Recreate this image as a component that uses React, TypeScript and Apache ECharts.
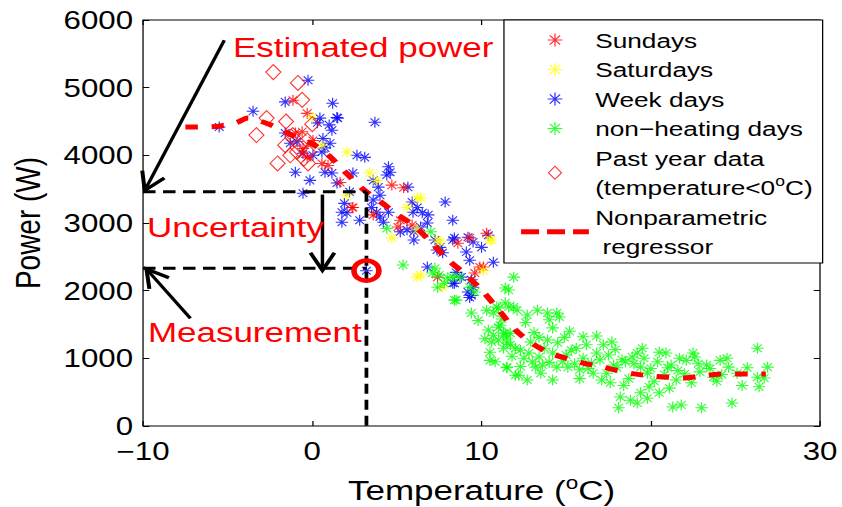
import React, { useEffect, useRef } from "react";
import * as echarts from "echarts";

const FONT = "'Liberation Sans', Arial, Helvetica, sans-serif";
const PAGE_W = 842;
const PAGE_H = 507;
const INNER_W = 674;
const STRETCH = PAGE_W / INNER_W;

type Pt = [number, number];

const xTicks = [-10, 0, 10, 20, 30];
const yTicks = [0, 1000, 2000, 3000, 4000, 5000, 6000];

const sundays: Pt[] = [
  [-1.14, 4815], [-0.3, 4620], [-1.0, 4330], [0.04, 4220], [-0.55, 4100], [-0.3, 3970],
  [0.93, 3850], [1.64, 3600], [2.4, 3230], [4.7, 3560], [5.4, 3520], [3.6, 3120],
  [5.2, 3040], [5.06, 2940], [5.9, 2970], [10.3, 2850], [9.3, 2780], [10.1, 2350],
  [9.6, 2260], [9.9, 2350], [7.4, 2200], [0.57, 3880], [2.35, 3230], [-0.6, 4350], [8.6, 2700],
];

const saturdays: Pt[] = [
  [0.0, 4560], [0.57, 4150], [2.05, 4050], [3.4, 3740], [3.8, 3630], [2.05, 3410],
  [6.2, 3370], [5.6, 3230], [4.7, 2780], [6.2, 2900], [6.2, 2200], [7.55, 2720],
  [10.6, 2750], [10.1, 2300], [7.7, 2050], [6.4, 3370], [7.4, 2750], [10.5, 2750], [6.4, 2230],
];

const weekDays: Pt[] = [
  [-0.25, 5110], [-3.5, 4650], [-1.6, 4790], [1.2, 4770], [0.45, 4550], [1.45, 4560],
  [1.5, 4550], [3.7, 4490], [-5.5, 4420], [1.16, 4370], [-1.6, 4330], [-1.3, 4180],
  [-0.9, 4200], [0.63, 4250], [1.05, 4180], [0.75, 4110], [0.57, 4050], [-0.55, 4030],
  [0.04, 4000], [2.64, 4000], [3.1, 3970], [0.75, 3750], [1.16, 3740], [1.46, 3590],
  [2.4, 3740], [4.5, 3830], [4.6, 3750], [4.4, 3710], [-0.14, 3630], [-0.55, 3440],
  [3.6, 3630], [3.9, 3530], [5.65, 3530], [2.2, 3460], [4.0, 3410], [3.6, 3340],
  [3.5, 3230], [3.8, 3160], [1.9, 3290], [1.75, 3160], [2.05, 3150], [2.8, 3040],
  [1.75, 3010], [4.5, 3160], [4.0, 3090], [4.2, 3010], [5.9, 3310], [6.2, 3230],
  [5.95, 3160], [6.5, 3150], [6.85, 3120], [7.85, 3310], [8.3, 3040], [6.8, 3000],
  [6.4, 2940], [6.0, 2870], [5.2, 2870], [5.6, 2900], [6.0, 2750], [7.25, 2750],
  [7.55, 2640], [7.37, 2600], [7.7, 2560], [8.3, 2750], [9.2, 2790], [9.5, 2720],
  [9.1, 2570], [9.3, 2450], [10.4, 2820], [10.0, 2640], [10.7, 2420], [8.5, 2270],
  [8.8, 2200], [8.3, 2110], [9.3, 1900], [6.8, 2350], [3.2, 2295], [9.2, 1980],
  [9.5, 2050], [8.4, 2780], [8.4, 2110], [9.4, 2160], [9.4, 1930], [0.3, 4480],
  [-1.0, 3750], [1.0, 4450],
];

const nonHeatingDays: Pt[] = [
  [4.4, 2920], [5.36, 2380], [7.0, 2870], [7.1, 2260], [7.5, 2230], [8.0, 2190],
  [8.3, 2200], [8.7, 2200], [7.4, 2050], [7.8, 2110], [8.4, 1860], [9.3, 2050],
  [9.6, 1980], [9.4, 1670], [10.3, 1710], [10.7, 1670], [10.9, 1760], [11.4, 1820],
  [11.9, 1760], [11.6, 2010], [11.9, 2200], [10.4, 1420], [11.0, 1460], [10.7, 1340],
  [11.3, 1370], [11.5, 1300], [11.7, 1370], [11.0, 1270], [10.5, 1090], [11.3, 1150],
  [11.5, 1230], [12.0, 1150], [10.5, 970], [11.5, 870], [12.0, 750], [11.4, 2040],
  [8.5, 1860], [11.0, 1740], [11.6, 1760], [12.1, 1710], [12.7, 1640], [13.3, 1710],
  [13.9, 1670], [14.45, 1670], [14.6, 1610], [10.6, 1240], [11.1, 1490], [11.4, 1370],
  [11.7, 1200], [12.3, 1120], [12.9, 1240], [13.4, 1310], [13.9, 1270], [14.2, 1450],
  [14.0, 1570], [10.8, 950], [11.5, 860], [12.2, 750], [12.7, 680], [13.2, 870],
  [13.4, 1020], [14.2, 1080], [14.45, 870], [14.2, 680], [15.0, 1050], [15.6, 1150],
  [16.2, 1200], [16.8, 1080], [17.2, 1200], [17.7, 1240], [15.1, 870], [15.8, 830],
  [16.6, 780], [17.1, 680], [17.4, 780], [18.0, 860], [18.5, 950], [18.9, 1020],
  [19.2, 1080], [19.4, 870], [19.8, 780], [20.4, 950], [20.5, 1090], [21.0, 860],
  [17.6, 640], [18.2, 430], [19.2, 340], [19.4, 490], [19.8, 410], [18.1, 270],
  [18.8, 380], [19.9, 580], [20.5, 490], [21.1, 560], [21.3, 280], [21.8, 310],
  [21.5, 680], [22.1, 970], [22.5, 1080], [22.9, 800], [23.0, 270], [23.3, 900],
  [23.7, 720], [24.1, 970], [24.5, 1000], [24.8, 340], [25.1, 780], [25.7, 860],
  [26.3, 1150], [26.3, 720], [26.4, 580], [26.9, 870], [26.7, 710], [7.25, 2330],
  [12.5, 1000], [13.0, 950], [13.6, 900], [14.8, 960], [15.3, 1120], [16.0, 1000],
  [16.5, 930], [17.0, 980], [17.8, 900], [18.3, 980], [19.0, 920], [19.6, 1000],
  [20.0, 850], [20.8, 760], [21.6, 820], [22.0, 770], [22.8, 920], [23.5, 850],
  [24.2, 760], [12.8, 1080], [13.7, 1150], [14.5, 1230], [15.5, 920], [16.3, 850],
  [17.5, 1050], [18.7, 700], [20.2, 660], [21.2, 900], [22.4, 640], [12.3, 880],
  [11.8, 1030], [13.1, 1380], [14.9, 1310], [16.8, 1330], [9.8, 1560], [10.2, 1290],
  [13.5, 780], [15.8, 700], [17.9, 1130], [19.5, 1150], [21.7, 1000], [23.9, 660],
  [25.4, 600], [24.6, 870], [20.9, 1080], [22.6, 1020], [18.4, 600], [16.0, 1320],
  [12.6, 1530], [15.2, 1400], [14.0, 940], [11.2, 1580],
];

const pastYear: Pt[] = [
  [-2.3, 5230], [-0.85, 5070], [-0.6, 4820], [-2.7, 4550], [-1.55, 4500], [-3.3, 4300],
  [0.0, 4460], [-1.15, 4300], [-0.3, 4220], [-0.9, 4050], [-0.25, 4050], [-0.25, 3880],
  [-2.05, 3880], [-0.7, 4150], [-1.3, 4000], [-0.5, 3950], [-1.6, 4150],
];

const regressorT = [-7.5, -6.5, -5.5, -4.5, -3.8, -3, -2, -1, 0, 1, 2, 3, 4, 5, 6, 7, 8, 9, 10, 11, 12, 13, 14, 15, 16, 17, 18, 19, 20, 21, 22, 23, 24, 25, 26, 26.8];
const regressorP = [4420, 4420, 4430, 4480, 4550, 4500, 4400, 4270, 4170, 3990, 3740, 3500, 3320, 3130, 2960, 2720, 2460, 2250, 2010, 1720, 1420, 1220, 1080, 1000, 930, 880, 820, 770, 740, 720, 710, 740, 765, 770, 770, 770];

const estimatedPower = 3460;
const measuredPower = 2330;
const measuredTemp = 3.2;
const measuredPoint: Pt = [3.2, 2295];

const arrowSpecs: { tail: Pt; tip: Pt }[] = [
  { tail: [-5.2, 5700], tip: [-9.9, 3480] },
  { tail: [-7.2, 1590], tip: [-9.8, 2320] },
  { tail: [0.6, 3420], tip: [0.6, 2300] },
];

const annotationTexts = [
  { text: "Estimated power", x: 186.5, y: 47 },
  { text: "Uncertainty", x: 117.6, y: 227 },
  { text: "Measurement", x: 118.4, y: 332 },
];

const NAME_SUN = "Sundays";
const NAME_SAT = "Saturdays";
const NAME_WEEK = "Week days";
const NAME_NONHEAT = "non\u2212heating days";
const NAME_PAST = "Past year data (temperature<0\u00B0C)";
const NAME_REG = "Nonparametric regressor";

const legendLabel: Record<string, string> = {
  [NAME_PAST]: "Past year data\n(temperature<0{sup|o}C)",
  [NAME_REG]: "Nonparametric\n regressor",
};

const ASTERISK = "path://M5,0L5,11M0,5.5L10,5.5M1.5,1.6L8.5,9.4M1.5,9.4L8.5,1.6";
const DIAMOND = "path://M6,0L12,7.5L6,15L0,7.5Z";

function starSeries(name: string, data: Pt[], color: string) {
  return {
    name,
    type: "scatter",
    data,
    symbol: ASTERISK,
    symbolSize: [10, 11],
    itemStyle: { color, borderColor: color, borderWidth: 1 },
    emphasis: { disabled: true },
    z: 2,
  };
}

export default function App() {
  const ref = useRef<HTMLDivElement>(null);

  useEffect(() => {
    if (!ref.current) return;
    const chart = echarts.init(ref.current, undefined, { renderer: "svg" });

    const tickStyle = { color: "#000", width: 1 };
    const noLine = { show: false, onZero: false };
    const option: any = {
      animation: false,
      backgroundColor: "#fff",
      grid: {
        left: 114.5,
        right: 17.6,
        top: 20,
        bottom: 81,
        containLabel: false,
        outerBoundsMode: "none",
        show: true,
        borderColor: "#000",
        borderWidth: 1,
        backgroundColor: "#fff",
      },
      xAxis: [
        {
          type: "value",
          position: "bottom",
          min: xTicks[0],
          max: xTicks[xTicks.length - 1],
          interval: xTicks[1] - xTicks[0],
          axisLine: noLine,
          axisTick: { inside: true, length: 5, lineStyle: tickStyle },
          splitLine: { show: false },
          axisLabel: {
            color: "#000",
            fontSize: 25,
            fontFamily: FONT,
            margin: 13,
            formatter: (v: number) => String(v).replace("-", "\u2212"),
          },
          name: "Temperature ({sup|o}C)",
          nameLocation: "middle",
          nameGap: 50,
          nameTextStyle: {
            color: "#000",
            fontSize: 28,
            fontFamily: FONT,
            lineHeight: 28,
            rich: { sup: { fontSize: 18, lineHeight: 18, padding: [0, 0, 14, 0], fontFamily: FONT, color: "#000" } },
          },
        },
        {
          type: "value",
          position: "top",
          min: xTicks[0],
          max: xTicks[xTicks.length - 1],
          interval: xTicks[1] - xTicks[0],
          axisLine: noLine,
          axisTick: { inside: true, length: 5, lineStyle: tickStyle },
          splitLine: { show: false },
          axisLabel: { show: false },
        },
      ],
      yAxis: [
        {
          type: "value",
          position: "left",
          min: yTicks[0],
          max: yTicks[yTicks.length - 1],
          interval: yTicks[1] - yTicks[0],
          axisLine: noLine,
          axisTick: { inside: true, length: 5, lineStyle: tickStyle },
          splitLine: { show: false },
          axisLabel: {
            color: "#000",
            fontSize: 25,
            fontFamily: FONT,
            margin: 8,
            padding: [2, 0, 0, 0],
            formatter: (v: number) => String(v),
          },
          name: "Power (W)",
          nameLocation: "middle",
          nameGap: 78.5,
          nameTextStyle: { color: "#000", fontSize: 28, fontFamily: FONT, lineHeight: 28 },
        },
        {
          type: "value",
          position: "right",
          min: yTicks[0],
          max: yTicks[yTicks.length - 1],
          interval: yTicks[1] - yTicks[0],
          axisLine: noLine,
          axisTick: { inside: true, length: 5, lineStyle: tickStyle },
          splitLine: { show: false },
          axisLabel: { show: false },
        },
      ],
      legend: {
        orient: "vertical",
        left: 403.4,
        top: 20,
        padding: [5.25, 8, 1.75, 11.2],
        itemWidth: 54.3,
        itemHeight: 13,
        itemGap: 0,
        backgroundColor: "#fff",
        borderColor: "#000",
        borderWidth: 1,
        borderRadius: 0,
        selectedMode: false,
        itemStyle: { borderWidth: 1 },
        lineStyle: { width: 5, type: [14.4, 6.4] },
        textStyle: {
          color: "#000",
          fontSize: 21,
          fontFamily: FONT,
          lineHeight: 29.5,
          rich: { sup: { fontSize: 14, lineHeight: 14, padding: [0, 0, 12, 0], fontFamily: FONT, color: "#000" } },
        },
        formatter: (name: string) => legendLabel[name] ?? name,
        data: [
          NAME_SUN,
          NAME_SAT,
          NAME_WEEK,
          NAME_NONHEAT,
          NAME_PAST,
          { name: NAME_REG, itemStyle: { opacity: 0, borderWidth: 0 } },
        ],
      },
      series: [
        starSeries(NAME_WEEK, weekDays, "#0000ff"),
        starSeries(NAME_SUN, sundays, "#ff0000"),
        starSeries(NAME_SAT, saturdays, "#ffff00"),
        starSeries(NAME_NONHEAT, nonHeatingDays, "#00ff00"),
        {
          name: NAME_PAST,
          type: "scatter",
          data: pastYear,
          symbol: DIAMOND,
          symbolSize: [12, 15],
          itemStyle: { color: "rgba(255,0,0,0)", borderColor: "#ff0000", borderWidth: 1 },
          emphasis: { disabled: true },
          z: 3,
        },
        {
          name: NAME_REG,
          type: "line",
          data: regressorT.map((t, i) => [t, regressorP[i]]),
          symbol: "none",
          smooth: 0.3,
          lineStyle: { color: "#ff0000", width: 5, type: [10, 11] },
          itemStyle: { color: "#ff0000" },
          emphasis: { disabled: true },
          z: 4,
        },
      ],
    };

    chart.setOption(option);

    const toPx = (p: number[]) =>
      chart.convertToPixel({ xAxisIndex: 0, yAxisIndex: 0 } as any, p) as number[];

    const black = "#000";
    const dash = [10, 6];
    const elements: any[] = [];
    const dashLine = (a: number[], b: number[]) => {
      const pa = toPx(a);
      const pb = toPx(b);
      elements.push({
        type: "line",
        z: 100,
        silent: true,
        shape: { x1: pa[0], y1: pa[1], x2: pb[0], y2: pb[1] },
        style: { stroke: black, lineWidth: 3, lineDash: dash },
      });
    };
    dashLine([xTicks[0], estimatedPower], [measuredTemp, estimatedPower]);
    dashLine([measuredTemp, estimatedPower], [measuredTemp, yTicks[0]]);
    dashLine([xTicks[0], measuredPower], [measuredTemp, measuredPower]);

    arrowSpecs.forEach(({ tail, tip }) => {
      const a = toPx(tail);
      const b = toPx(tip);
      const ang = Math.atan2(a[1] - b[1], a[0] - b[0]);
      const L = 20;
      const th = 0.5;
      const h1 = [b[0] + L * Math.cos(ang + th), b[1] + L * Math.sin(ang + th)];
      const h2 = [b[0] + L * Math.cos(ang - th), b[1] + L * Math.sin(ang - th)];
      elements.push({
        type: "line",
        z: 100,
        silent: true,
        shape: { x1: a[0], y1: a[1], x2: b[0], y2: b[1] },
        style: { stroke: black, lineWidth: 2.8 },
      });
      elements.push({
        type: "polyline",
        z: 100,
        silent: true,
        shape: { points: [h1, b, h2] },
        style: { stroke: black, lineWidth: 3.2, fill: "none" },
      });
    });

    const c = toPx(measuredPoint);
    elements.push({
      type: "circle",
      z: 101,
      silent: true,
      shape: { cx: c[0], cy: c[1], r: 10 },
      style: { stroke: "#ff0000", lineWidth: 4.5, fill: "none" },
    });

    annotationTexts.forEach((t) => {
      elements.push({
        type: "text",
        z: 102,
        silent: true,
        x: t.x,
        y: t.y,
        style: {
          text: t.text,
          fill: "#ff0000",
          fontSize: 28,
          fontFamily: FONT,
          textAlign: "left",
          textVerticalAlign: "middle",
          align: "left",
          verticalAlign: "middle",
        },
      });
    });

    chart.setOption({ graphic: { elements } });

    return () => chart.dispose();
  }, []);

  return (
    <div
      style={{
        position: "absolute",
        left: 0,
        top: 0,
        width: PAGE_W,
        height: PAGE_H,
        overflow: "hidden",
        background: "#fff",
      }}
    >
      <div
        ref={ref}
        style={{
          width: INNER_W,
          height: PAGE_H,
          transform: `scaleX(${STRETCH})`,
          transformOrigin: "0 0",
        }}
      />
    </div>
  );
}
